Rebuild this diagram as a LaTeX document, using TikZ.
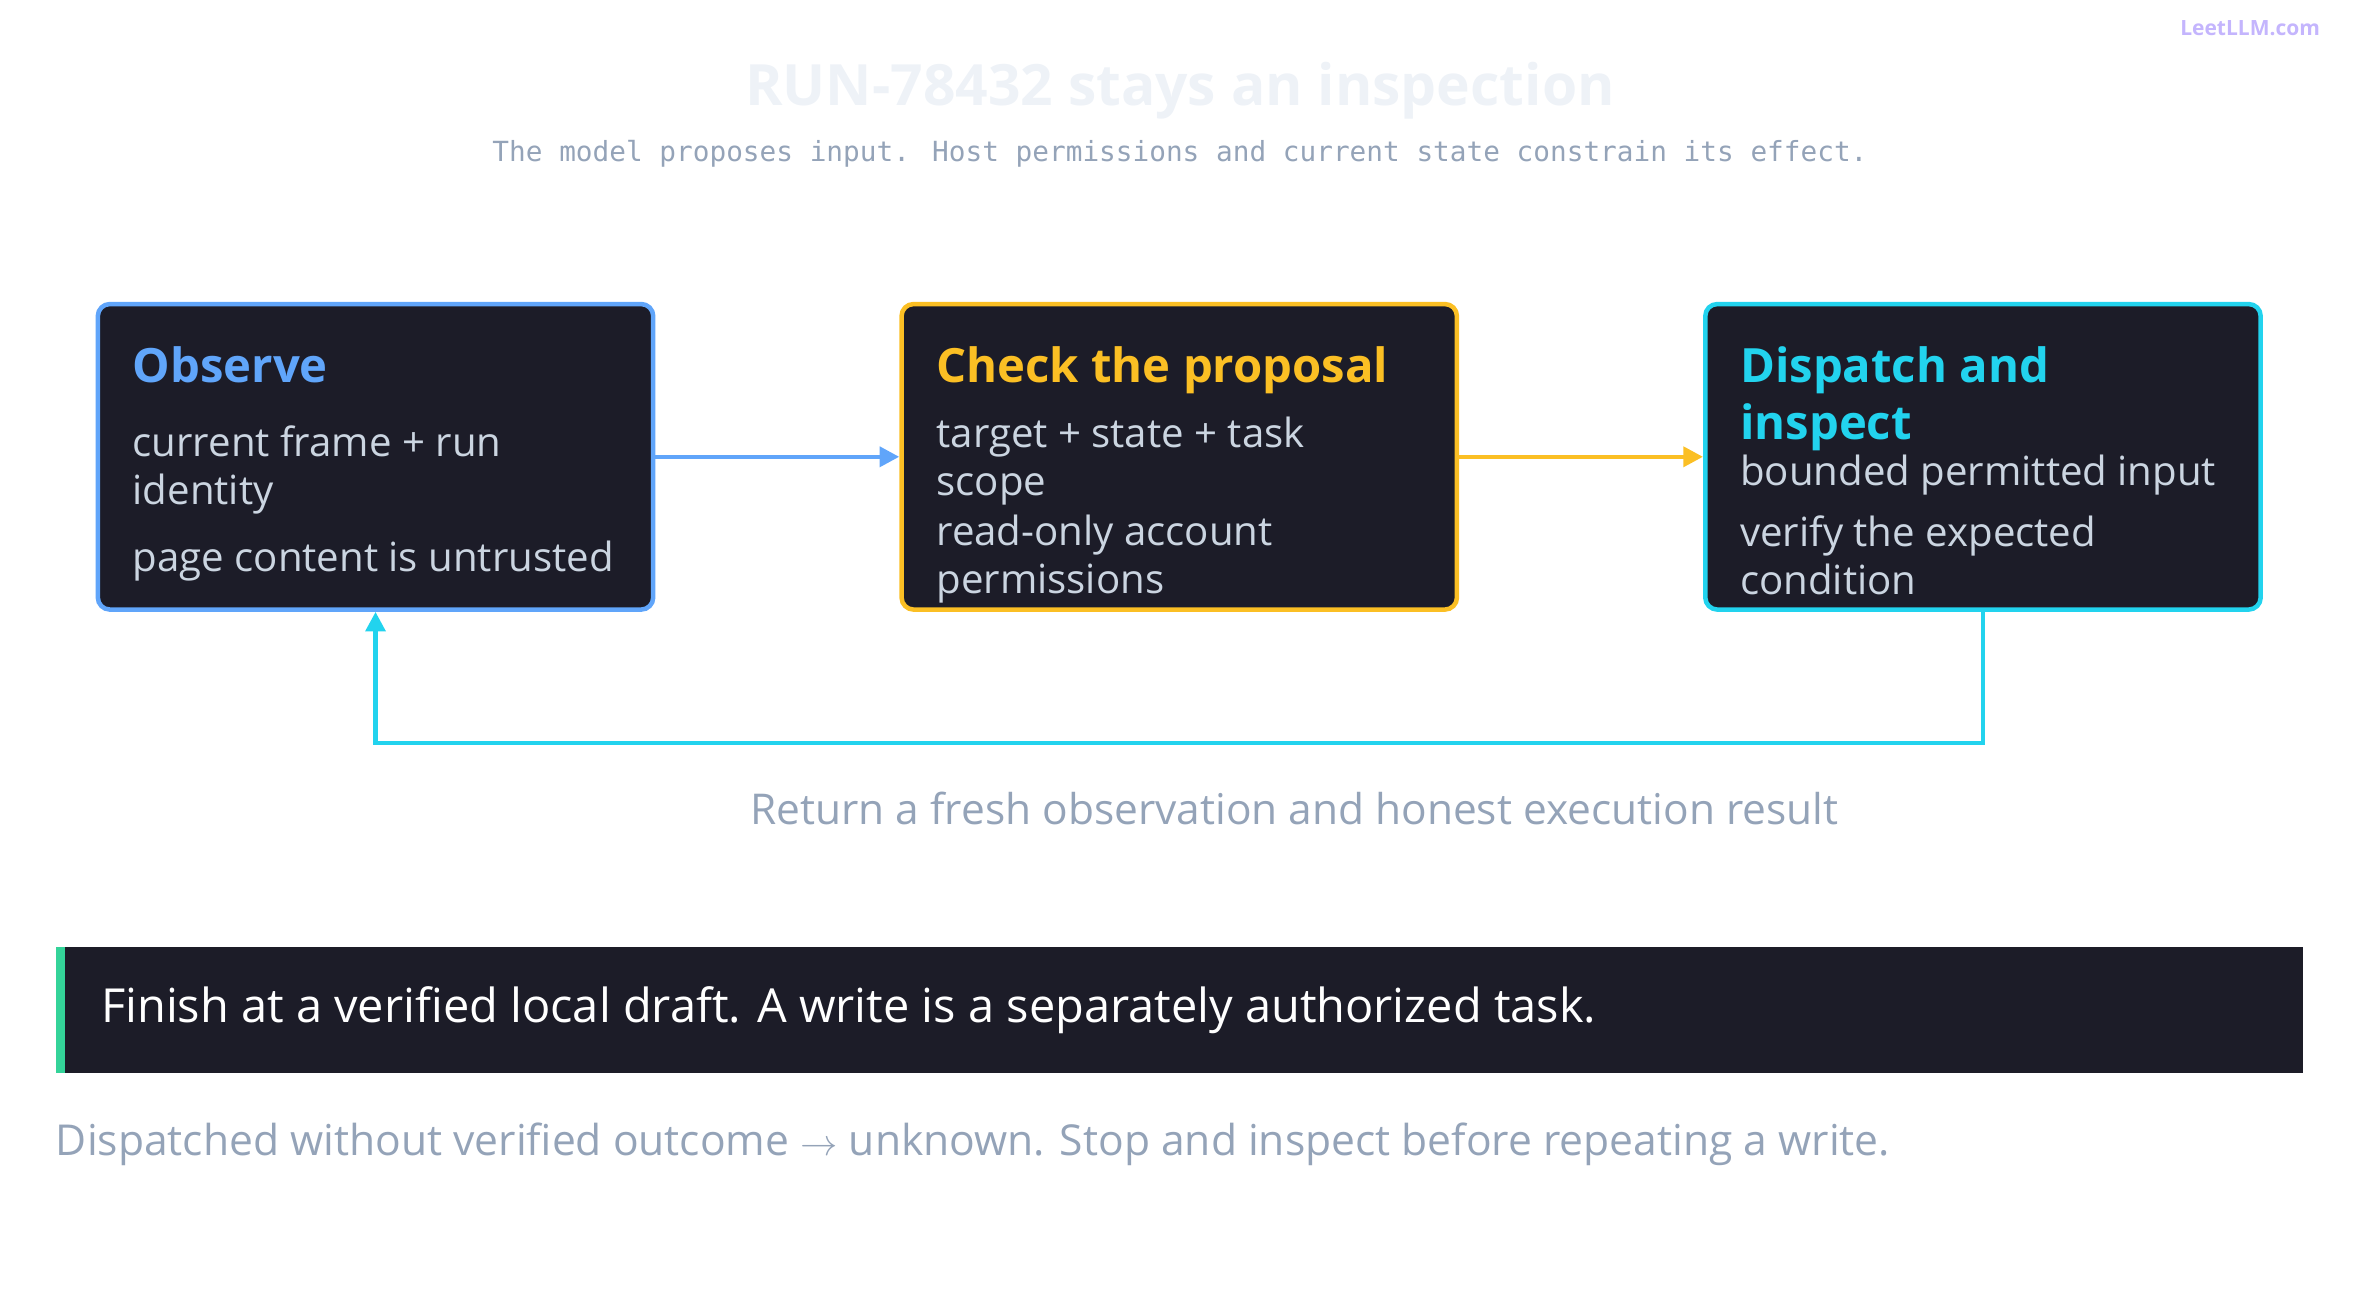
\documentclass[tikz,border=0pt]{standalone}
\usepackage{fontspec}
\setmainfont{Open Sans}
\newfontfamily\monof{DejaVu Sans Mono}
\usetikzlibrary{arrows.meta,positioning}
\definecolor{panel}{HTML}{1C1C28}
\definecolor{obsblue}{HTML}{60A5FA}
\definecolor{chkamber}{HTML}{FBBF24}
\definecolor{discyan}{HTML}{22D3EE}
\definecolor{muted}{HTML}{94A3B8}
\definecolor{bodytxt}{HTML}{CBD5E1}
\definecolor{okgreen}{HTML}{34D399}
\tikzset{
  stage/.style={draw=#1, line width=3bp, fill=panel, rounded corners=8bp,
    minimum width=369bp, minimum height=203bp, inner sep=0pt},
  stagetitle/.style={anchor=north west, text=#1, font=\fontsize{31.5}{38}\selectfont\bfseries, align=left, inner sep=0pt},
  stagebody/.style={anchor=north west, text=bodytxt, font=\fontsize{26.8}{32}\selectfont, align=left, inner sep=0pt}
}
\begin{document}
\begin{tikzpicture}[x=1bp,y=1bp]
        \useasboundingbox (0,0) rectangle (1568,-863.7);
        % Header
        \node (title) at (784,-60) {\fontsize{38}{42}\selectfont\bfseries\color[HTML]{EEF2F7}RUN-78432 stays an inspection};
        \node (sub) at (784,-102) {\monof\fontsize{18.5}{21}\selectfont\color{muted}The model proposes input. Host permissions and current state constrain its effect.};
        \node (mark) at (1495,-19) {\fontsize{14}{16}\selectfont\bfseries\color[HTML]{C4B5FD}LeetLLM.com};
        % Stages
        \node [stage=obsblue] (obs) at (249.5,-303.5) {};
        \node [stage=chkamber] (chk) at (783.5,-303.5) {};
        \node [stage=discyan] (dis) at (1317.5,-303.5) {};
        \node [stagetitle=obsblue] (obsT) at (88,-230) {Observe};
        \node [stagebody] (obsB) at (88,-283) {current frame + run\\identity\\[12bp]page content is untrusted};
        \node [stagetitle=chkamber] (chkT) at (622,-230) {Check the proposal};
        \node [stagebody] (chkB) at (622,-277) {target + state + task\\scope\\[1bp]read-only account\\permissions};
        \node [stagetitle=discyan] (disT) at (1156,-230) {Dispatch and\\inspect};
        \node [stagebody] (disB) at (1156,-302) {bounded permitted input\\[9bp]verify the expected\\condition};
        % Flow
        \draw [draw=obsblue, line width=3bp, -{Triangle[length=13bp,width=13bp]}] (obs.east) -- (chk.west);
        \draw [draw=chkamber, line width=3bp, -{Triangle[length=13bp,width=13bp]}] (chk.east) -- (dis.west);
        \draw [draw=discyan, line width=3bp, -{Triangle[length=13bp,width=13bp]}] (dis.south) -- ++(0,-87) -| (obs.south);
        \node (ret) at (860,-537) {\fontsize{28.3}{32}\selectfont\color{muted}Return a fresh observation and honest execution result};
        % Bottom note
        \fill [panel] (37,-629) rectangle (1530,-713);
        \fill [okgreen] (37,-629) rectangle (43,-713);
        \node [anchor=west, text=white, inner sep=0pt] (fin) at (67,-671) {\fontsize{31.3}{34}\selectfont Finish at a verified local draft. A write is a separately authorized task.};
        \node [anchor=west, text=muted, inner sep=0pt] (foot) at (37,-760) {\fontsize{28.4}{32}\selectfont Dispatched without verified outcome $\rightarrow$ unknown. Stop and inspect before repeating a write.};
\end{tikzpicture}
\end{document}
